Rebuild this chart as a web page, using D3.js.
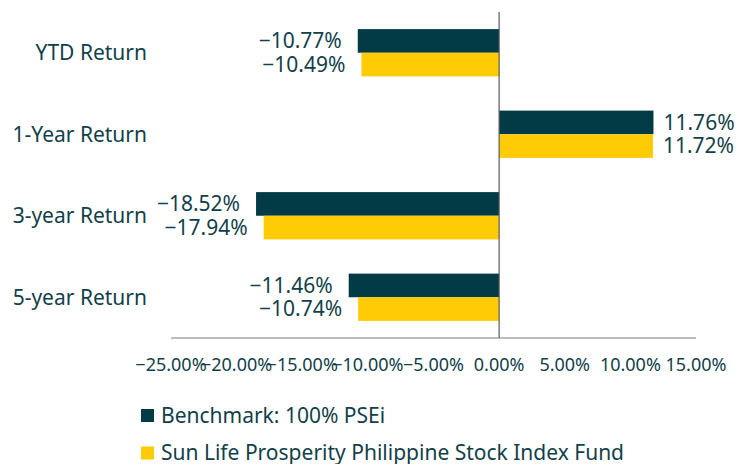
<!DOCTYPE html>
<html>
<head>
<meta charset="utf-8">
<script src="https://cdn.jsdelivr.net/npm/d3@7"></script>
<style>
  body { margin: 0; background: #fff; }
  text { font-family: "Noto Sans", sans-serif; fill: #123f4a; }
</style>
</head>
<body>
<svg id="chart" width="737" height="464"></svg>
<script>
// data
const categories = ["YTD Return", "1-Year Return", "3-year Return", "5-year Return"]
const seriesNames = ["Benchmark: 100% PSEi", "Sun Life Prosperity Philippine Stock Index Fund"]
const benchmark = [-10.77, 11.76, -18.52, -11.46]
const fund = [-10.49, 11.72, -17.94, -10.74]
const tickValues = [-25, -20, -15, -10, -5, 0, 5, 10, 15]
const colors = ["#023a45", "#ffcb05"]

const svg = d3.select("#chart")

// percent text with a real minus sign
function pct(v) {
  return (v < 0 ? "\u2212" : "") + Math.abs(v).toFixed(2) + "%"
}

var x = d3.scaleLinear()
  .domain([-25, 15])
  .range([171, 696])

var y = d3.scaleBand()
  .domain(categories)
  .range([12, 338])
  .paddingInner(0.42)
  .paddingOuter(0.21)

var ys = d3.scaleBand()
  .domain(seriesNames)
  .range([0, y.bandwidth()])

// bottom axis line
svg.append("line")
  .attr("x1", x(-25)).attr("x2", x(15))
  .attr("y1", 338).attr("y2", 338)
  .attr("stroke", "#bdbdbd")
  .attr("stroke-width", 2)

// tick labels
svg.append("g")
  .selectAll("text")
  .data(tickValues)
  .enter()
  .append("text")
  .attr("x", d => x(d))
  .attr("y", 365)
  .attr("dy", "0.35em")
  .attr("text-anchor", "middle")
  .style("font-size", "18px")
  .text(d => pct(d))

var rows = []
for (let i = 0; i < categories.length; i++) {
  rows.push({cat: categories[i], s: seriesNames[0], v: benchmark[i], c: colors[0]})
  rows.push({cat: categories[i], s: seriesNames[1], v: fund[i], c: colors[1]})
}

svg.append("g")
  .selectAll("rect")
  .data(rows)
  .enter()
  .append("rect")
  .attr("x", d => x(Math.min(0, d.v)))
  .attr("width", d => Math.abs(x(d.v) - x(0)))
  .attr("y", d => y(d.cat) + ys(d.s))
  .attr("height", ys.bandwidth())
  .attr("fill", d => d.c)

// zero line
svg.append("line")
  .attr("x1", x(0)).attr("x2", x(0))
  .attr("y1", 12).attr("y2", 338)
  .attr("stroke", "#595959")
  .attr("stroke-width", 1.2)

// value labels
svg.append("g")
  .selectAll("text")
  .data(rows)
  .enter()
  .append("text")
  .attr("x", d => d.v < 0 ? x(d.v) - 16 : x(d.v) + 10)
  .attr("y", d => y(d.cat) + ys(d.s) + ys.bandwidth() / 2)
  .attr("dy", "0.35em")
  .attr("text-anchor", d => d.v < 0 ? "end" : "start")
  .style("font-size", "21px")
  .text(d => pct(d.v))

// category labels
svg.append("g")
  .selectAll("text")
  .data(categories)
  .enter()
  .append("text")
  .attr("x", 147)
  .attr("y", d => y(d) + y.bandwidth() / 2)
  .attr("dy", "0.35em")
  .attr("text-anchor", "end")
  .style("font-size", "21px")
  .text(d => d)

// legend
var legend = svg.append("g")
  .selectAll("g")
  .data(seriesNames)
  .enter()
  .append("g")
  .attr("transform", (d, i) => "translate(141," + (409 + i * 37.5) + ")")

legend.append("rect")
  .attr("width", 13).attr("height", 13)
  .attr("fill", (d, i) => colors[i])

legend.append("text")
  .attr("x", 20)
  .attr("y", 6.5)
  .attr("dy", "0.35em")
  .style("font-size", "21px")
  .text(d => d)
</script>
</body>
</html>
